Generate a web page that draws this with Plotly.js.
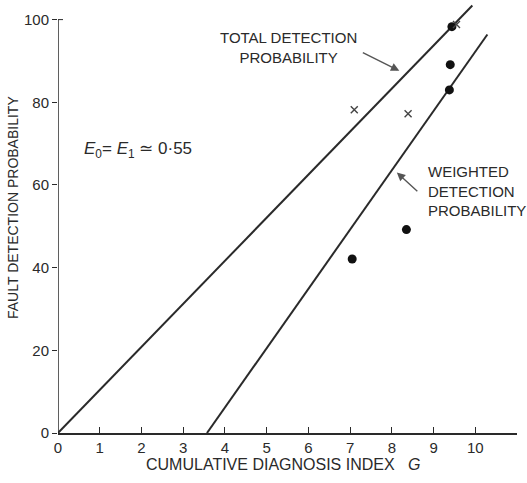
<!DOCTYPE html>
<html>
<head>
<meta charset="utf-8">
<script src="https://cdn.plot.ly/plotly-3.0.1.min.js"></script>
<style>html,body{margin:0;padding:0;background:#fff;}#chart{width:527px;height:483px;}</style>
</head>
<body>
<div id="chart"></div>
<script>
// Fitted lines (end points)
const totalLineX = [0, 9.93];
const totalLineY = [0, 103.4];
const weightedLineX = [3.57, 10.29];
const weightedLineY = [0, 96.4];
// Measured points
const dotX = [7.05, 8.35, 9.38, 9.40, 9.44];
const dotY = [42.1, 49.2, 83.0, 89.1, 98.3];
const crossX = [7.10, 8.39, 9.55];
const crossY = [78.2, 77.2, 98.8];
// Ticks
const xTickVals = [0,1,2,3,4,5,6,7,8,9,10,11];
const xTickText = ['0','1','2','3','4','5','6','7','8','9','10',''];
const yTickVals = [0,20,40,60,80,100];

const ink = '#2a2a2a';
const font = 'Liberation Sans, Arial, sans-serif';

const traces = [
  {x: totalLineX, y: totalLineY, mode: 'lines', line: {color: ink, width: 2}, hoverinfo: 'skip'},
  {x: weightedLineX, y: weightedLineY, mode: 'lines', line: {color: ink, width: 2}, hoverinfo: 'skip'},
  {x: dotX, y: dotY, mode: 'markers', marker: {symbol: 'circle', size: 9, color: '#111'}},
  {x: crossX, y: crossY, mode: 'markers', marker: {symbol: 'x-thin', size: 7, line: {width: 1.4, color: '#444'}}}
];

const layout = {
  width: 527, height: 483,
  margin: {l: 58, r: 10, t: 1, b: 50},
  paper_bgcolor: '#fff', plot_bgcolor: '#fff',
  showlegend: false,
  font: {family: font, color: ink, size: 15},
  xaxis: {
    range: [0, 11], showgrid: false, zeroline: false,
    showline: true, linecolor: ink, linewidth: 1.5,
    tickmode: 'array', tickvals: xTickVals, ticktext: xTickText,
    ticks: 'inside', ticklen: 6, tickcolor: ink, tickwidth: 1,
    tickfont: {size: 15, color: ink}
  },
  yaxis: {
    range: [0, 104.5], showgrid: false, zeroline: false,
    showline: false,
    tickmode: 'array', tickvals: yTickVals,
    ticks: 'outside', ticklen: 5, tickcolor: ink, tickwidth: 1,
    tickfont: {size: 15, color: ink}
  },
  shapes: [
    {type: 'line', xref: 'x', yref: 'y', x0: 0, x1: 0, y0: 0, y1: 100, line: {color: ink, width: 1.5}},
    {type: 'line', xref: 'x', yref: 'y', x0: 0, x1: 0.12, y0: 100, y1: 100, line: {color: ink, width: 1}}
  ],
  annotations: [
    {text: 'FAULT DETECTION PROBABILITY', xref: 'paper', yref: 'paper', x: (13-58)/459, y: (433-208)/432,
     xanchor: 'center', yanchor: 'middle',
     textangle: -90, showarrow: false, font: {size: 14, color: ink}},
    {text: 'CUMULATIVE DIAGNOSIS INDEX &nbsp;&nbsp;<i>G</i>', xref: 'paper', yref: 'paper',
     x: (283-58)/459, y: (433-464)/432, xanchor: 'center', yanchor: 'middle',
     showarrow: false, font: {size: 16, color: ink}},
    {text: '<i>E</i><sub>0</sub>= <i>E</i><sub>1</sub> ≃ 0·55', xref: 'paper', yref: 'paper',
     x: (82-58)/459, y: (433-150)/432, xanchor: 'left', yanchor: 'middle', showarrow: false,
     font: {size: 17, color: ink}},
    {text: 'TOTAL DETECTION<br>PROBABILITY', xref: 'paper', yref: 'paper',
     x: (288-58)/459, y: (433-47)/432, xanchor: 'center', yanchor: 'middle', align: 'center',
     showarrow: false, font: {size: 15, color: ink}},
    {text: 'WEIGHTED<br>DETECTION<br>PROBABILITY', xref: 'paper', yref: 'paper',
     x: (426-58)/459, y: (433-191)/432, xanchor: 'left', yanchor: 'middle', align: 'left',
     showarrow: false, font: {size: 15, color: ink}},
    {x: 8.18, y: 87.6, xref: 'x', yref: 'y', ax: -38, ay: -19,
     text: '', showarrow: true, arrowhead: 2, arrowsize: 1.2, arrowwidth: 1.4, arrowcolor: '#555'},
    {x: 8.12, y: 63.0, xref: 'x', yref: 'y', ax: 22, ay: 20,
     text: '', showarrow: true, arrowhead: 2, arrowsize: 1.2, arrowwidth: 1.4, arrowcolor: '#555'}
  ]
};

Plotly.newPlot('chart', traces, layout, {displayModeBar: false, staticPlot: true});
</script>
</body>
</html>
